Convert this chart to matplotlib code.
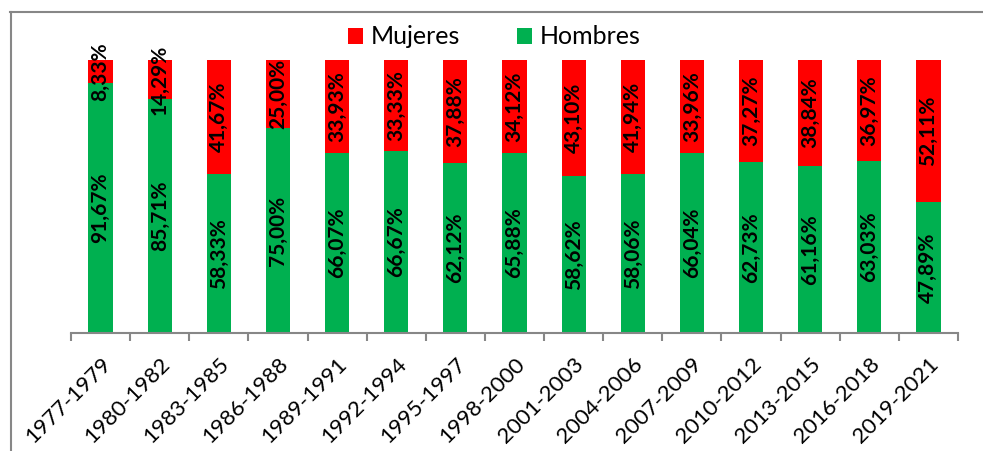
import matplotlib
matplotlib.use("Agg")
import matplotlib.pyplot as plt
from matplotlib.lines import Line2D
import numpy as np

periodos = ['1977-1979', '1980-1982', '1983-1985', '1986-1988', '1989-1991',
            '1992-1994', '1995-1997', '1998-2000', '2001-2003', '2004-2006',
            '2007-2009', '2010-2012', '2013-2015', '2016-2018', '2019-2021']
hombres = [91.67, 85.71, 58.33, 75.00, 66.07, 66.67, 62.12, 65.88, 58.62,
           58.06, 66.04, 62.73, 61.16, 63.03, 47.89]
mujeres = [8.33, 14.29, 41.67, 25.00, 33.93, 33.33, 37.88, 34.12, 43.10,
           41.94, 33.96, 37.27, 38.84, 36.97, 52.11]

verde = '#00B050'
rojo = '#FF0000'
gris = '#878787'

plt.rcParams['font.family'] = ['Lato', 'DejaVu Sans']

fig = plt.figure(figsize=(9.83, 4.51), dpi=100)
ax = fig.add_axes([71 / 983, 1 - 333 / 451, (958 - 71) / 983, (333 - 60) / 451])

# 100% apilado
h = np.array(hombres)
m = np.array(mujeres)
tot = h + m
x = np.arange(len(periodos))
b1 = ax.bar(x, h / tot, width=0.41, color=verde, label='Hombres')
b2 = ax.bar(x, m / tot, width=0.41, bottom=h / tot, color=rojo, label='Mujeres')

fmt = lambda v: ('%.2f%%' % v).replace('.', ',')
ax.bar_label(b1, labels=[fmt(v) for v in hombres], label_type='center',
             rotation=90, fontsize=15, fontweight='bold', color='black')
ax.bar_label(b2, labels=[fmt(v) for v in mujeres], label_type='center',
             rotation=90, fontsize=15, fontweight='bold', color='black')

ax.set_xlim(-0.5, len(periodos) - 0.5)
ax.set_ylim(0, 1)
ax.set_yticks([])
for s in ['top', 'right', 'left']:
    ax.spines[s].set_visible(False)
ax.spines['bottom'].set_color(gris)
ax.spines['bottom'].set_linewidth(1.5)

ax.set_xticks(x)
ax.set_xticklabels(periodos, rotation=45, ha='right', va='top',
                   rotation_mode='anchor', fontsize=16)
ax.tick_params(axis='x', which='major', length=0, pad=15)
ax.set_xticks(np.arange(len(periodos) + 1) - 0.5, minor=True)
ax.tick_params(axis='x', which='minor', length=6, width=1.5, color=gris)

hnd, lab = ax.get_legend_handles_labels()
fig.legend(hnd[::-1], lab[::-1], loc='center', bbox_to_anchor=(0.503, 0.918),
           ncol=2, frameon=False, fontsize=18, handlelength=0.6,
           handleheight=0.6, handletextpad=0.3, columnspacing=2.3)

# borde del cuadro
fig.add_artist(Line2D([10 / 983, 1], [1 - 11.5 / 451, 1 - 11.5 / 451],
                      transform=fig.transFigure, color=gris, lw=1.5))
fig.add_artist(Line2D([10.5 / 983, 10.5 / 983], [0, 1 - 11.5 / 451],
                      transform=fig.transFigure, color=gris, lw=1.5))

fig.savefig('out.png', dpi=100)
